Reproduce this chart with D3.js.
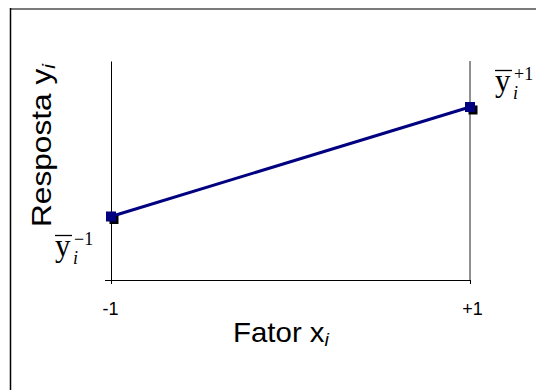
<!DOCTYPE html>
<html>
<head>
<meta charset="utf-8">
<script src="https://cdn.jsdelivr.net/npm/d3@7"></script>
<style>
  html, body { margin: 0; padding: 0; background: #fff; }
  svg { display: block; }
</style>
</head>
<body>
<div id="chart"></div>
<script>
// ---- data ----
const factorLevels = [-1, 1];
const xTickLabels = ["-1", "+1"];
const responseMeans = [2.9, 7.9];
const levelLabels = ["\u22121", "+1"];

const W = 536, H = 390;
const svg = d3.select("#chart").append("svg").attr("width", W).attr("height", H);

// outer frame (top & left visible)
svg.append("line").attr("x1", 10).attr("y1", 9).attr("x2", W).attr("y2", 9)
  .attr("stroke", "#7a7a7a").attr("stroke-width", 2);
svg.append("line").attr("x1", 10.5).attr("y1", 8).attr("x2", 10.5).attr("y2", H)
  .attr("stroke", "#000").attr("stroke-width", 1.5);

const x = d3.scaleLinear().domain([-1, 1]).range([111, 470]);
const y = d3.scaleLinear().domain([0, 10]).range([280, 61]);

// x axis
const xAxis = svg.append("g").attr("transform", `translate(0,${y(0)})`)
  .call(d3.axisBottom(x).tickValues(factorLevels)
    .tickFormat((d, i) => xTickLabels[i]).tickSize(4).tickSizeOuter(0).tickPadding(18));
xAxis.select(".domain").attr("stroke", "#000");
xAxis.selectAll(".tick line").attr("stroke", "#000");
xAxis.selectAll("text").attr("font-family", "Liberation Sans, Arial, sans-serif")
  .attr("font-size", 18).attr("fill", "#000");
xAxis.selectAll(".tick text").attr("dx", (d, i) => i === 1 ? 2 : -1);

// y axis (no labels, single bottom tick)
const yAxis = svg.append("g").attr("transform", `translate(${x(-1)},0)`)
  .call(d3.axisLeft(y).tickValues([0]).tickFormat("").tickSize(6).tickSizeOuter(0));
yAxis.select(".domain").attr("stroke", "#000");
yAxis.selectAll(".tick line").attr("stroke", "#000");

// right reference line at +1
svg.append("line").attr("x1", x(1)).attr("x2", x(1)).attr("y1", y(10)).attr("y2", y(0))
  .attr("stroke", "#222").attr("stroke-width", 1);

const pts = factorLevels.map((d, i) => ({ x: d, y: responseMeans[i] }));

// shadow markers
svg.append("g").selectAll("rect").data(pts).join("rect")
  .attr("x", d => x(d.x) - 4.5 + 3).attr("y", d => y(d.y) - 4.5 + 3)
  .attr("width", 9).attr("height", 9).attr("fill", "#000");

// line
svg.append("path").datum(pts)
  .attr("d", d3.line().x(d => x(d.x)).y(d => y(d.y)))
  .attr("fill", "none").attr("stroke", "#000080").attr("stroke-width", 3);

// markers
svg.append("g").selectAll("rect").data(pts).join("rect")
  .attr("x", d => x(d.x) - 5).attr("y", d => y(d.y) - 5)
  .attr("width", 10).attr("height", 10).attr("fill", "#000080");

// axis titles (stretched along the text direction to the reference length)
function stretchedTitle(main, x0, y0, rot, targetLen) {
  const g = svg.append("g").attr("transform", `translate(${x0},${y0}) rotate(${rot})`);
  const t = g.append("text")
    .attr("font-family", "Liberation Sans, Arial, sans-serif").attr("font-size", 27).attr("fill", "#000");
  t.append("tspan").text(main);
  t.append("tspan").text("i").attr("font-style", "italic").attr("font-size", 18).attr("dy", 4);
  const len = t.node().getComputedTextLength();
  t.attr("transform", `scale(${targetLen / len},1)`);
}
stretchedTitle("Fator x", 233, 342, 0, 96);
stretchedTitle("Resposta y", 51, 227, -90, 163);

// mean labels  ȳ_i^{±1}
function meanLabel(x0, base, sup) {
  const g = svg.append("g");
  g.append("text").attr("x", x0).attr("y", base)
    .attr("font-family", "Liberation Serif, Times New Roman, serif").attr("font-size", 31)
    .attr("fill", "#000").text("y");
  g.append("line").attr("x1", x0).attr("x2", x0 + 17).attr("y1", base - 20.5).attr("y2", base - 20.5)
    .attr("stroke", "#000").attr("stroke-width", 1.3);
  g.append("text").attr("x", x0 + 18).attr("y", base + 8)
    .attr("font-family", "Liberation Serif, Times New Roman, serif").attr("font-size", 18)
    .attr("font-style", "italic").attr("fill", "#000").text("i");
  g.append("text").attr("x", x0 + 19).attr("y", base - 11)
    .attr("font-family", "Liberation Serif, Times New Roman, serif").attr("font-size", 18)
    .attr("fill", "#000").text(sup);
}
meanLabel(55, 256, levelLabels[0]);
meanLabel(495, 91, levelLabels[1]);
</script>
</body>
</html>
